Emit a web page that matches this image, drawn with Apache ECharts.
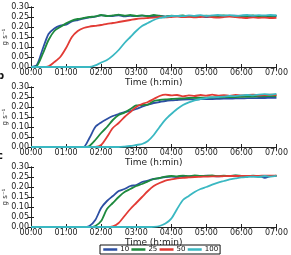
<!DOCTYPE html>
<html><head><meta charset="utf-8">
<script src="https://cdn.jsdelivr.net/npm/echarts@6/dist/echarts.min.js"></script>
<style>html,body{margin:0;padding:0;background:#fff}#c{width:291px;height:255px}</style>
</head><body><div id="c"></div>
<script>
const timeMin = [0,10,20,30,40,50,60,70,80,90,100,110,120,130,140,150,160,170,180,190,200,210,220,230,240,250,260,270,280,290,300,310,320,330,340,350,360,370,380,390,400,410,420];
const hourTicks = ['00:00','01:00','02:00','03:00','04:00','05:00','06:00','07:00'];
const yTicks = ['0.00','0.05','0.10','0.15','0.20','0.25','0.30'];
const seriesNames = ['10','25','50','100'];
const panelLetters = ['', 'b', 'c'];
const yLabel = 'g s\u207B\u00B9';
const xLabel = 'Time (h:min)';

const a10 = [0,0.01,0.09,0.165,0.193,0.207,0.212,0.228,0.235,0.242, 0.248,0.252,0.258,0.256,0.255,0.258,0.253,0.256,0.254,0.257, 0.255,0.253,0.257,0.252,0.255,0.256,0.251,0.254,0.256,0.255, 0.249,0.254,0.256,0.253,0.255,0.257,0.254,0.256,0.253,0.255, 0.254,0.256,0.255];
const a25 = [0,0.005,0.065,0.135,0.18,0.2,0.218,0.232,0.24,0.245, 0.25,0.253,0.26,0.255,0.258,0.262,0.257,0.26,0.255,0.258, 0.254,0.26,0.256,0.252,0.257,0.255,0.258,0.252,0.256,0.254, 0.257,0.253,0.255,0.258,0.254,0.252,0.256,0.255,0.258,0.253, 0.256,0.255,0.257];
const a50 = [0,0,0,0.003,0.025,0.05,0.095,0.15,0.18,0.195, 0.202,0.206,0.21,0.216,0.22,0.225,0.23,0.235,0.24,0.243, 0.245,0.247,0.25,0.248,0.25,0.252,0.249,0.251,0.248,0.25, 0.252,0.249,0.247,0.25,0.252,0.249,0.247,0.245,0.248,0.246, 0.247,0.245,0.246];
const a100 = [0,0,0,0,0,0,0,0,0,0, 0,0.008,0.022,0.035,0.057,0.085,0.12,0.15,0.18,0.205, 0.22,0.235,0.245,0.25,0.255,0.256,0.254,0.258,0.256,0.259, 0.255,0.258,0.26,0.257,0.259,0.256,0.258,0.26,0.257,0.259, 0.258,0.26,0.258];

const b10 = [0,0,0,0,0,0,0,0,0,0, 0.045,0.1,0.123,0.14,0.155,0.165,0.175,0.18,0.19,0.202, 0.212,0.22,0.225,0.23,0.233,0.235,0.237,0.238,0.238,0.239, 0.24,0.24,0.241,0.242,0.242,0.243,0.243,0.244,0.244,0.245, 0.245,0.246,0.246];
const b25 = [0,0,0,0,0,0,0,0,0,0, 0.005,0.035,0.07,0.1,0.135,0.16,0.172,0.19,0.208,0.21, 0.212,0.23,0.235,0.238,0.24,0.242,0.243,0.245,0.246,0.247, 0.247,0.248,0.248,0.249,0.25,0.25,0.251,0.252,0.252,0.253, 0.254,0.254,0.255];
const b50 = [0,0,0,0,0,0,0,0,0,0, 0,0,0.01,0.05,0.095,0.12,0.15,0.175,0.2,0.215, 0.225,0.24,0.255,0.262,0.258,0.26,0.253,0.258,0.255,0.26, 0.257,0.262,0.257,0.259,0.256,0.26,0.258,0.26,0.262,0.258, 0.26,0.262,0.26];
const b100 = [0,0,0,0,0,0,0,0,0,0, 0,0,0,0,0,0,0.002,0.005,0.01,0.015, 0.03,0.06,0.1,0.137,0.165,0.19,0.21,0.223,0.233,0.24, 0.245,0.248,0.25,0.252,0.255,0.254,0.258,0.26,0.258,0.262, 0.264,0.262,0.266];

const c10 = [0,0,0,0,0,0,0,0,0,0, 0.005,0.035,0.095,0.13,0.155,0.18,0.19,0.205,0.21,0.225, 0.232,0.24,0.245,0.25,0.252,0.25,0.255,0.253,0.256,0.254, 0.257,0.255,0.253,0.256,0.254,0.257,0.255,0.256,0.253,0.254, 0.246,0.255,0.256];
const c25 = [0,0,0,0,0,0,0,0,0,0, 0,0.005,0.03,0.09,0.12,0.15,0.175,0.19,0.205,0.215, 0.228,0.24,0.245,0.252,0.255,0.253,0.257,0.254,0.258,0.255, 0.256,0.258,0.254,0.257,0.255,0.258,0.256,0.254,0.257,0.255, 0.256,0.254,0.257];
const c50 = [0,0,0,0,0,0,0,0,0,0, 0,0,0,0,0.003,0.02,0.055,0.09,0.12,0.15, 0.18,0.205,0.22,0.232,0.238,0.243,0.246,0.248,0.25,0.251, 0.252,0.253,0.253,0.254,0.255,0.255,0.255,0.256,0.256,0.256, 0.257,0.257,0.257];
const c100 = [0,0,0,0,0,0,0,0,0,0, 0,0,0,0,0,0,0,0,0,0, 0,0.001,0.005,0.017,0.042,0.09,0.135,0.155,0.175,0.19, 0.2,0.212,0.222,0.23,0.238,0.243,0.248,0.25,0.252,0.25, 0.255,0.252,0.256];

const panels = [[a10,a25,a50,a100],[b10,b25,b50,b100],[c10,c25,c50,c100]];
const colors = ['#2c4fa3','#1e8a3e','#e23b35','#3ab8c2'];
const FONT = 'DejaVu Sans';
const gridTops = [7, 87, 167];
const gridH = 60, gridLeft = 31, gridRight = 14;

const grids = [], xAxes = [], yAxes = [], series = [], graphics = [];
gridTops.forEach((top, p) => {
  grids.push({left: gridLeft, right: gridRight, top: top, height: gridH});
  const axLine = {show: true, lineStyle: {color: '#222', width: 1}};
  const tick = {show: true, inside: true, length: 3, lineStyle: {color: '#222'}};
  xAxes.push({
    gridIndex: p, type: 'value', min: 0, max: 420, interval: 60,
    axisLine: axLine, axisTick: tick, splitLine: {show: false},
    axisLabel: {fontSize: 8, fontFamily: FONT, color: '#222', margin: 2,
      formatter: v => hourTicks[Math.round(v / 60)]},
    name: xLabel, nameLocation: 'middle', nameGap: 8,
    nameTextStyle: {fontSize: 9, fontFamily: FONT, color: '#222'}
  });
  xAxes.push({
    gridIndex: p, type: 'value', min: 0, max: 420, interval: 60, position: 'top',
    axisLine: axLine, axisTick: tick, splitLine: {show: false}, axisLabel: {show: false}
  });
  yAxes.push({
    gridIndex: p, type: 'value', min: 0, max: 0.3, interval: 0.05,
    axisLine: axLine, axisTick: tick, splitLine: {show: false},
    axisLabel: {fontSize: 8, fontFamily: FONT, color: '#222', margin: 2,
      formatter: v => yTicks[Math.round(v / 0.05)]}
  });
  yAxes.push({
    gridIndex: p, type: 'value', min: 0, max: 0.3, interval: 0.05, position: 'right',
    axisLine: axLine, axisTick: tick, splitLine: {show: false}, axisLabel: {show: false}
  });
  panels[p].forEach((vals, s) => {
    series.push({
      type: 'line', name: seriesNames[s], xAxisIndex: p * 2, yAxisIndex: p * 2,
      data: timeMin.map((t, i) => [t, vals[i]]),
      symbol: 'none', smooth: 0.25, animation: false,
      lineStyle: {color: colors[s], width: 1.8}, itemStyle: {color: colors[s]}
    });
  });
  graphics.push({
    type: 'text', x: 5, y: top + gridH / 2, rotation: Math.PI / 2,
    style: {text: yLabel, fontSize: 7, fontFamily: FONT, fill: '#222', align: 'center', verticalAlign: 'middle'}
  });
  if (panelLetters[p]) {
    graphics.push({
      type: 'text', x: -3, y: top - 16,
      style: {text: panelLetters[p], fontSize: 10, fontWeight: 'bold', fontFamily: FONT, fill: '#111'}
    });
  }
});

const chart = echarts.init(document.getElementById('c'), null, {renderer: 'canvas'});
chart.setOption({
  animation: false,
  grid: grids, xAxis: xAxes, yAxis: yAxes, series: series, graphic: graphics,
  legend: {
    data: seriesNames, left: 100, top: 245, itemGap: 1, itemWidth: 14, itemHeight: 8,
    padding: [1, 2], borderColor: '#111', borderWidth: 1, borderRadius: 0,
    lineStyle: {width: 2.5}, itemStyle: {opacity: 0},
    textStyle: {fontSize: 7, fontFamily: FONT, color: '#111', padding: [0, 0, 0, -2]}
  }
});
</script></body></html>
